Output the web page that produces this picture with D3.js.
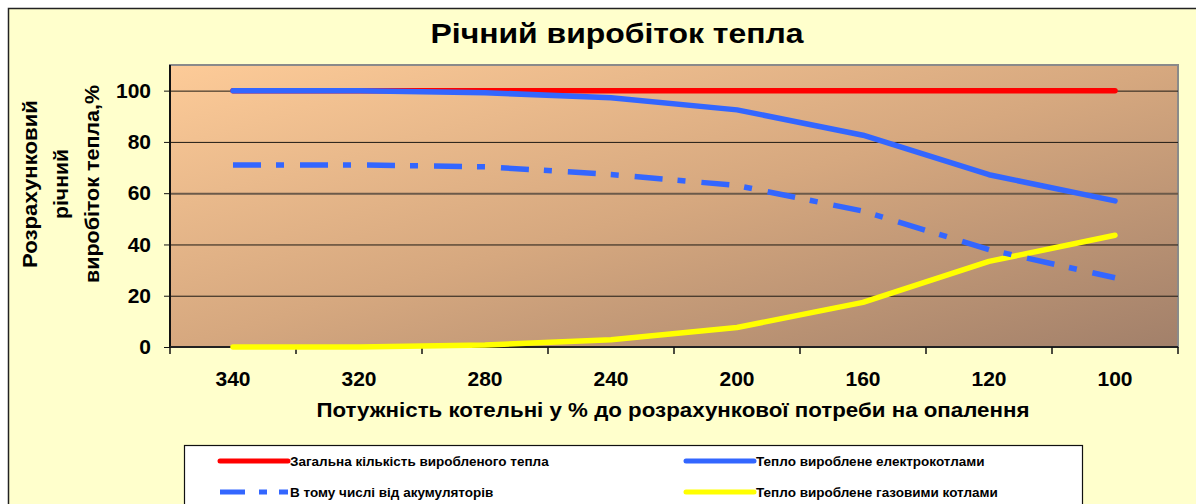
<!DOCTYPE html>
<html>
<head>
<meta charset="utf-8">
<script src="https://cdn.jsdelivr.net/npm/d3@7"></script>
<style>
  body { margin: 0; background: #fff; }
  text { font-family: "Liberation Sans", Arial, sans-serif; font-weight: bold; fill: #000; }
</style>
</head>
<body>
<script>
// categories (boiler capacity, % of design demand)
var categories = ["340", "320", "280", "240", "200", "160", "120", "100"];

// series values, % of annual heat
var totalHeat   = [100, 100, 100, 100, 100, 100, 100, 100];
var electroHeat = [100, 100, 99.2, 97.2, 92.5, 82.6, 67.2, 57];
var accumHeat   = [71, 71, 70.3, 67.3, 63, 53, 38, 27];
var gasHeat     = [0, 0, 0.8, 2.8, 7.6, 17.4, 33.4, 43.6];

var yTicks = [0, 20, 40, 60, 80, 100];

var seriesNames = ["Загальна кількість виробленого тепла",
                   "Тепло вироблене електрокотлами",
                   "В тому числі від акумуляторів",
                   "Тепло вироблене газовими котлами"];

var W = 1196, H = 504;
var plot = {left: 170, top: 65, right: 1178, bottom: 347};

var svg = d3.select("body").append("svg")
  .attr("width", W).attr("height", H);

var defs = svg.append("defs");
var grad = defs.append("linearGradient").attr("id", "plotBg")
  .attr("x1", 0).attr("y1", 0).attr("x2", 1).attr("y2", 1);
grad.append("stop").attr("offset", "0%").attr("stop-color", "#fdcb98");
grad.append("stop").attr("offset", "50%").attr("stop-color", "#d6a87f");
grad.append("stop").attr("offset", "100%").attr("stop-color", "#a2806a");

// outer frame
svg.append("rect").attr("x", 8.5).attr("y", 8.5)
  .attr("width", W + 10).attr("height", H + 10)
  .attr("fill", "#ffffcc").attr("stroke", "#222").attr("stroke-width", 1.5);

var x = d3.scaleBand().domain(categories).range([plot.left, plot.right]);
var y = d3.scaleLinear().domain([0, 110]).range([plot.bottom, plot.top]);

// plot area
svg.append("rect").attr("x", plot.left).attr("y", plot.top)
  .attr("width", plot.right - plot.left).attr("height", plot.bottom - plot.top)
  .attr("fill", "url(#plotBg)").attr("stroke", "#8a8a8a").attr("stroke-width", 2);

// gridlines
svg.append("g").selectAll("line").data(yTicks.filter(function(d) { return d > 0; }))
  .enter().append("line")
  .attr("x1", plot.left).attr("x2", plot.right)
  .attr("y1", function(d) { return y(d) + 0.5; })
  .attr("y2", function(d) { return y(d) + 0.5; })
  .attr("stroke", function(d) { return d === 60 ? "#6b5a4a" : "#1e1a14"; })
  .attr("stroke-width", function(d) { return d === 60 ? 2 : 1; });

// y axis
var yAxis = svg.append("g").attr("transform", "translate(" + plot.left + ",0)")
  .call(d3.axisLeft(y).tickValues(yTicks).tickSize(6).tickPadding(13));
yAxis.select(".domain").attr("stroke", "#111").attr("stroke-width", 2)
  .attr("d", "M0," + plot.top + "V" + plot.bottom);
yAxis.selectAll(".tick line").attr("stroke", "#111");
yAxis.selectAll("text").style("font-size", "21px").attr("fill", "#000");

// x axis: ticks at category boundaries
var xAxis = svg.append("g").attr("transform", "translate(0," + plot.bottom + ")")
  .call(d3.axisBottom(x).tickSize(0).tickPadding(24));
xAxis.select(".domain").attr("stroke", "#222").attr("stroke-width", 2)
  .attr("d", "M" + plot.left + ",0H" + plot.right);
xAxis.selectAll("text").style("font-size", "21px");
var bounds = categories.map(function(c) { return x(c); }).concat([plot.right]);
xAxis.selectAll(".bnd").data(bounds).enter().append("line")
  .attr("x1", function(d) { return d; }).attr("x2", function(d) { return d; })
  .attr("y1", 0).attr("y2", 7).attr("stroke", "#111").attr("stroke-width", 1.5);

// series
var cx = function(d, i) { return x(categories[i]) + x.bandwidth() / 2; };
var line = d3.line().x(cx).y(function(d) { return y(d); });

var styles = [
  {data: totalHeat,   color: "#ff0000", dash: null},
  {data: electroHeat, color: "#3366ff", dash: null},
  {data: accumHeat,   color: "#3366ff", dash: "28,15,8,16"},
  {data: gasHeat,     color: "#ffff00", dash: null}
];
// draw order: gas, accum, total, electro (electro on top of total)
[3, 2, 0, 1].forEach(function(k) {
  var s = styles[k];
  svg.append("path").datum(s.data)
    .attr("d", line).attr("fill", "none")
    .attr("stroke", s.color).attr("stroke-width", 5.5)
    .attr("stroke-linecap", s.dash ? "butt" : "round")
    .attr("stroke-linejoin", "round")
    .attr("stroke-dasharray", s.dash);
});

// title
svg.append("text").attr("x", 617).attr("y", 43).attr("text-anchor", "middle")
  .attr("textLength", 373).attr("lengthAdjust", "spacingAndGlyphs")
  .style("font-size", "28px").text("Річний виробіток тепла");

// y axis title (three lines)
var yLines = ["Розрахунковий", "річний", "виробіток тепла,%"];
var yLens = [168, 70, 198];
var yTitle = svg.append("text").attr("transform", "translate(0,184) rotate(-90)")
  .attr("text-anchor", "middle").style("font-size", "20px");
yLines.forEach(function(t, i) {
  yTitle.append("tspan").attr("x", 0).attr("y", 37 + i * 31)
    .attr("textLength", yLens[i]).attr("lengthAdjust", "spacingAndGlyphs").text(t);
});

// x axis title
svg.append("text").attr("x", 673).attr("y", 417).attr("text-anchor", "middle")
  .attr("textLength", 713).attr("lengthAdjust", "spacingAndGlyphs")
  .style("font-size", "20px")
  .text("Потужність котельні у % до розрахункової потреби на опалення");

// legend
var lg = svg.append("g");
lg.append("rect").attr("x", 184.5).attr("y", 445.5).attr("width", 898).attr("height", 80)
  .attr("fill", "#fff").attr("stroke", "#111").attr("stroke-width", 1.2);
var legPos = [[220, 461], [686, 461], [220, 492], [686, 492]];
styles.forEach(function(s, k) {
  var p = legPos[k];
  lg.append("line").attr("x1", p[0]).attr("x2", p[0] + 68)
    .attr("y1", p[1]).attr("y2", p[1])
    .attr("stroke", s.color).attr("stroke-width", 5)
    .attr("stroke-linecap", s.dash ? "butt" : "round")
    .attr("stroke-dasharray", s.dash ? "25,14,8,12" : null);
  lg.append("text").attr("x", p[0] + 70).attr("y", p[1] + 5)
    .style("font-size", "13.5px").text(seriesNames[k]);
});
</script>
</body>
</html>
